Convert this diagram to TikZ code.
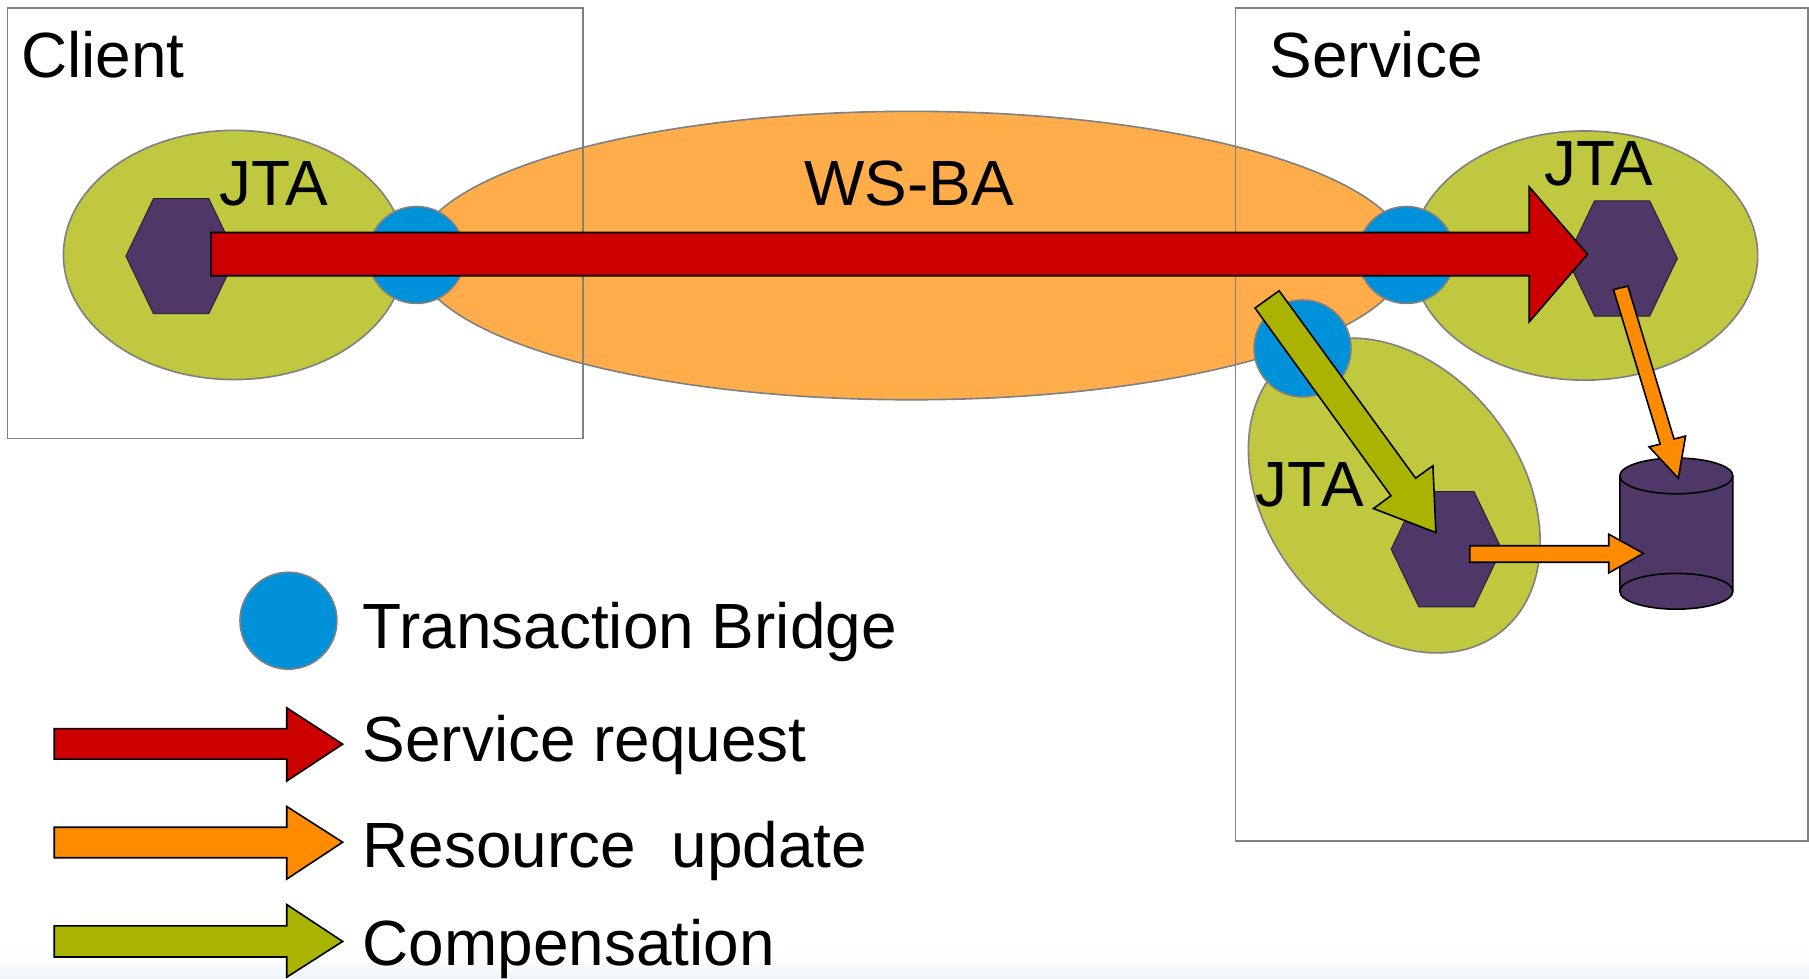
\documentclass[tikz,border=0pt]{standalone}
\usepackage{fontspec}
\setmainfont{Liberation Sans}
\usetikzlibrary{shapes.geometric}
\definecolor{olivefill}{HTML}{C0C840}
\definecolor{orangefill}{HTML}{FFAD4A}
\definecolor{bluefill}{HTML}{0091DB}
\definecolor{purplefill}{HTML}{4F3768}
\definecolor{redarrow}{HTML}{CC0000}
\definecolor{orangearrow}{HTML}{FF8C00}
\definecolor{greenarrow}{HTML}{A9B300}
\definecolor{bottomtint}{HTML}{F0F6FA}
\tikzset{x=0.5pt,y=-0.5pt,
 panel/.style={draw=black!50,line width=0.7pt,fill=none},
 blob/.style={ellipse,draw=black!50,line width=0.7pt,fill=olivefill,inner sep=0pt},
 bridge/.style={circle,draw=black!50,line width=0.7pt,fill=bluefill,minimum size=42pt,inner sep=0pt},
 hexa/.style={regular polygon,regular polygon sides=6,draw=black!50!purplefill,line width=0.4pt,fill=purplefill,minimum size=57.7pt,inner sep=0pt,xscale=0.83},
 lab/.style={font=\fontsize{27.7}{32}\selectfont,inner sep=0pt,anchor=base west},
 arr/.style={draw=black,line width=0.7pt,line join=miter},
 cyl/.style={draw=black,line width=0.7pt,fill=purplefill}}
\begin{document}
\begin{tikzpicture}
\useasboundingbox (0,0) rectangle (1568,848);
\fill[white] (0,0) rectangle (1568,848);
\shade[top color=white,bottom color=bottomtint] (0,826) rectangle (1568,848);
\node[ellipse,draw=black!50,line width=0.7pt,fill=orangefill,minimum width=430pt,minimum height=125pt,inner sep=0pt] (ba) at (790,221.5) {};
\node[panel,minimum width=249.5pt,minimum height=186.5pt,inner sep=0pt] (client) at (256,193.5) {};
\node[panel,minimum width=248pt,minimum height=361pt,inner sep=0pt] (service) at (1319,368) {};
\node[blob,minimum width=148pt,minimum height=108pt] (jta1) at (203,221) {};
\node[blob,minimum width=150pt,minimum height=108pt] (jta2) at (1373.5,221.5) {};
\node[blob,rotate=-52.3,minimum width=150pt,minimum height=110pt] (jta3) at (1208.5,429.5) {};
\node[bridge] (b1) at (361,221) {};
\node[bridge] (b2) at (1219,221) {};
\node[bridge] (b3) at (1129,302) {};
\node[hexa] (h1) at (157,222) {};
\node[hexa] (h2) at (1406,224) {};
\node[hexa] (h3) at (1253.7,476) {};
% storage cylinder
\coordinate (dbtop) at (1453,412.5);
\coordinate (dbbot) at (1453,512.5);
\draw[cyl] (1404,412.5) arc[start angle=180,end angle=0,x radius=49,y radius=-15.5] -- (1502,512.5) arc[start angle=0,end angle=-180,x radius=49,y radius=-15.5] -- cycle;
\draw[cyl,fill=none] (dbtop) ++(-49,0) arc[start angle=180,end angle=360,x radius=49,y radius=-15.5];
\draw[cyl,fill=none] (dbbot) ++(-49,0) arc[start angle=180,end angle=0,x radius=49,y radius=-15.5];
\node[lab] (tc) at (18,67) {Client};
\node[lab] (ts) at (1100,67) {Service};
\node[lab] (tj1) at (190,178) {JTA};
\node[lab] (tj2) at (1338,161) {JTA};
\node[lab] (tj3) at (1088,439) {JTA};
\node[lab] (tw) at (697,178) {WS-BA};
% block arrows
\draw[arr,fill=redarrow] (183,201.5) -- (1325.5,201.5) -- (1325.5,162) -- (1376,220.4) -- (1325.5,279) -- (1325.5,239) -- (183,239) -- cycle;
\draw[arr,fill=orangearrow] (1398.5,251) -- (1411,248) -- (1451,380.5) -- (1461,378) -- (1454.7,414.5) -- (1429.4,387.3) -- (1439,385) -- cycle;
\draw[arr,fill=greenarrow] (1087.8,267) -- (1108.7,252) -- (1227,414.5) -- (1242,403.7) -- (1244.6,461.6) -- (1190.5,440.8) -- (1205.6,429.7) -- cycle;
\draw[arr,fill=orangearrow] (1274,473) -- (1394.4,473) -- (1394.4,463) -- (1424.4,479.6) -- (1394.4,496.6) -- (1394.4,487.3) -- (1274,487.3) -- cycle;
\node[bridge] (lb) at (250,538) {};
\draw[arr,fill=redarrow] (47,631.5) -- (248.5,631.5) -- (248.5,613.5) -- (297,645) -- (248.5,677) -- (248.5,658) -- (47,658) -- cycle;
\draw[arr,fill=orangearrow] (47,717) -- (248.5,717) -- (248.5,699) -- (297,730) -- (248.5,762) -- (248.5,743.5) -- (47,743.5) -- cycle;
\draw[arr,fill=greenarrow] (47,802.5) -- (248.5,802.5) -- (248.5,784) -- (297,816) -- (248.5,847) -- (248.5,829.5) -- (47,829.5) -- cycle;
\node[lab] (l1) at (314,562) {Transaction Bridge};
\node[lab] (l2) at (314,660) {Service request};
\node[lab] (l3) at (314,752) {Resource\ \ update};
\node[lab] (l4) at (314,837) {Compensation};
\end{tikzpicture}
\end{document}
